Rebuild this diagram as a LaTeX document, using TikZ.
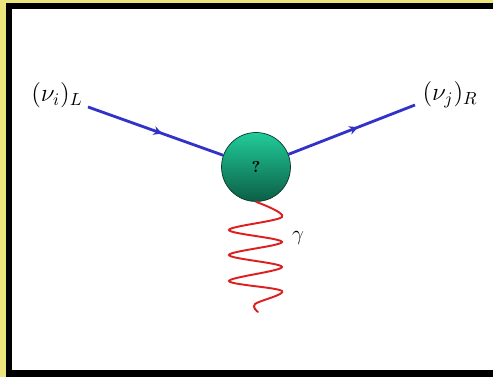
\documentclass[tikz,border=0pt]{standalone}
\usepackage{tikz}
\usetikzlibrary{arrows.meta,decorations.markings}
\definecolor{framey}{HTML}{EDE67C}
\definecolor{fermblue}{HTML}{3232C8}
\definecolor{blobtop}{HTML}{22CC9A}
\definecolor{blobbot}{HTML}{0B5E45}
\definecolor{photred}{HTML}{DD1F1F}

\begin{document}
\begin{tikzpicture}[x=0.02cm,y=0.02cm,
 fermion/.style={draw=fermblue,line width=1.6pt,postaction={decorate},
  decoration={markings,mark=at position 0.55 with {\arrow{Stealth[length=5pt,width=5pt]}}}},
 blob/.style={circle,draw=blobbot!60!black,thin,top color=blobtop,bottom color=blobbot,
  minimum size=1.38cm,inner sep=0pt,font=\small\bfseries},
 photon/.style={draw=photred,line width=1.1pt,line cap=round},
 lab/.style={font=\Large}]
% frame
\fill[framey] (0,0) rectangle (493,377);
\fill[black] (6,0) rectangle (493,374);
\fill[white] (12,7) rectangle (493,368);
% vertex
\node[blob] (blob) at (256,210) {?};
\node[lab] (nuL) at (57,282) {$(\nu_i)_L$};
\node[lab] (nuR) at (450,282) {$(\nu_j)_R$};
\node[font=\large] (gam) at (298,139) {$\gamma$};
\coordinate (inL) at (88,270);
\coordinate (outR) at (415,272);
\coordinate (gend) at (258,65);
\draw[fermion] (inL) -- (blob);
\draw[fermion] (blob) -- (outR);
% photon line
\draw[photon] plot[smooth,tension=0.55] coordinates {(blob.south) (282,160) (229,147)
 (282,135) (229,122) (282,110) (229,96) (282,86) (255,73) (gend)};
\end{tikzpicture}
\end{document}
